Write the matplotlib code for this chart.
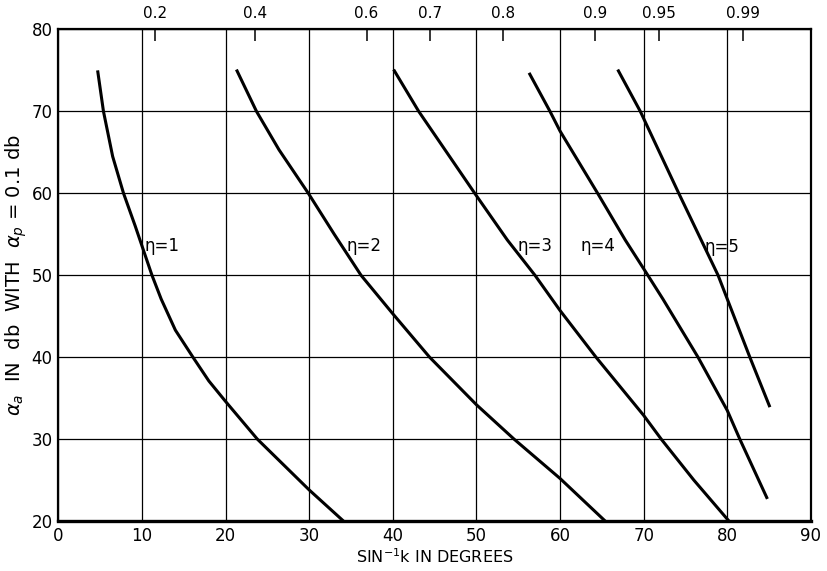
import numpy as np
import matplotlib
matplotlib.use("Agg")
import matplotlib.pyplot as plt

# curves: (sin^-1 k in degrees, attenuation in db)
eta1_x = [4.7, 5.4, 6.5, 7.8, 9.2, 10.0, 11.2, 12.3, 14.0, 16.1, 18.0, 20.0, 23.8, 27.0, 30.0, 34.1]
eta1_y = [75.0, 70.0, 64.5, 60.0, 56.0, 53.6, 50.0, 47.1, 43.3, 40.0, 37.1, 34.6, 30.0, 26.8, 23.8, 20.0]
eta2_x = [21.3, 23.7, 26.4, 29.9, 33.0, 36.2, 40.0, 44.4, 50.0, 54.5, 60.0, 65.4]
eta2_y = [75.1, 70.0, 65.3, 60.0, 55.0, 50.0, 45.3, 40.0, 34.2, 30.0, 25.2, 20.0]
eta3_x = [40.1, 43.1, 49.8, 53.7, 57.0, 60.0, 64.3, 70.0, 72.1, 76.0, 80.2]
eta3_y = [75.1, 70.0, 60.0, 54.3, 50.0, 45.7, 40.0, 32.9, 30.0, 25.0, 20.0]
eta4_x = [56.3, 58.8, 60.0, 64.5, 67.8, 70.5, 72.3, 76.5, 80.0, 81.5, 84.8]
eta4_y = [74.7, 70.0, 67.6, 60.0, 54.3, 50.0, 47.1, 40.0, 33.5, 30.0, 22.7]
eta5_x = [66.9, 69.6, 74.2, 78.9, 80.0, 82.7, 85.1]
eta5_y = [75.1, 70.0, 60.0, 50.0, 47.1, 40.0, 33.9]

labels = ["η=1", "η=2", "η=3", "η=4", "η=5"]
label_x = [10.3, 34.5, 54.9, 62.4, 77.3]
label_y = [53.6, 53.6, 53.6, 53.6, 53.4]

k_values = [0.2, 0.4, 0.6, 0.7, 0.8, 0.9, 0.95, 0.99]
k_labels = ["0.2", "0.4", "0.6", "0.7", "0.8", "0.9", "0.95", "0.99"]

fig = plt.figure(figsize=(8.27, 5.71), dpi=100)
ax = fig.add_axes([0.0705, 0.0875, 0.91, 0.861])

curves = [(eta1_x, eta1_y), (eta2_x, eta2_y), (eta3_x, eta3_y),
          (eta4_x, eta4_y), (eta5_x, eta5_y)]
for xs, ys in curves:
    ax.plot(xs, ys, color="black", lw=2.2, solid_capstyle="butt",
            solid_joinstyle="round")

for txt, tx, ty in zip(labels, label_x, label_y):
    ax.text(tx, ty, txt, fontsize=12, va="center", ha="left")

ax.set_xlim(0, 90)
ax.set_ylim(20, 80)
ax.set_xticks(range(0, 91, 10))
ax.set_yticks(range(20, 81, 10))
ax.grid(True, color="black", lw=0.9)
ax.tick_params(axis="both", length=0, labelsize=12, pad=4)
for sp in ax.spines.values():
    sp.set_linewidth(1.6)
ax.spines["bottom"].set_linewidth(2.4)

top = ax.secondary_xaxis("top")
top.set_xticks(np.degrees(np.arcsin(k_values)))
top.set_xticklabels(k_labels)
top.tick_params(direction="in", length=8.5, width=1.1, labelsize=11, pad=6)

ax.set_xlabel("SIN$^{-1}$k IN DEGREES", fontsize=11.5, labelpad=2)
ax.set_ylabel(r"$\alpha_a$  IN  db  WITH  $\alpha_p$ = 0.1 db", fontsize=14, labelpad=2)

fig.savefig("out.png", dpi=100)
